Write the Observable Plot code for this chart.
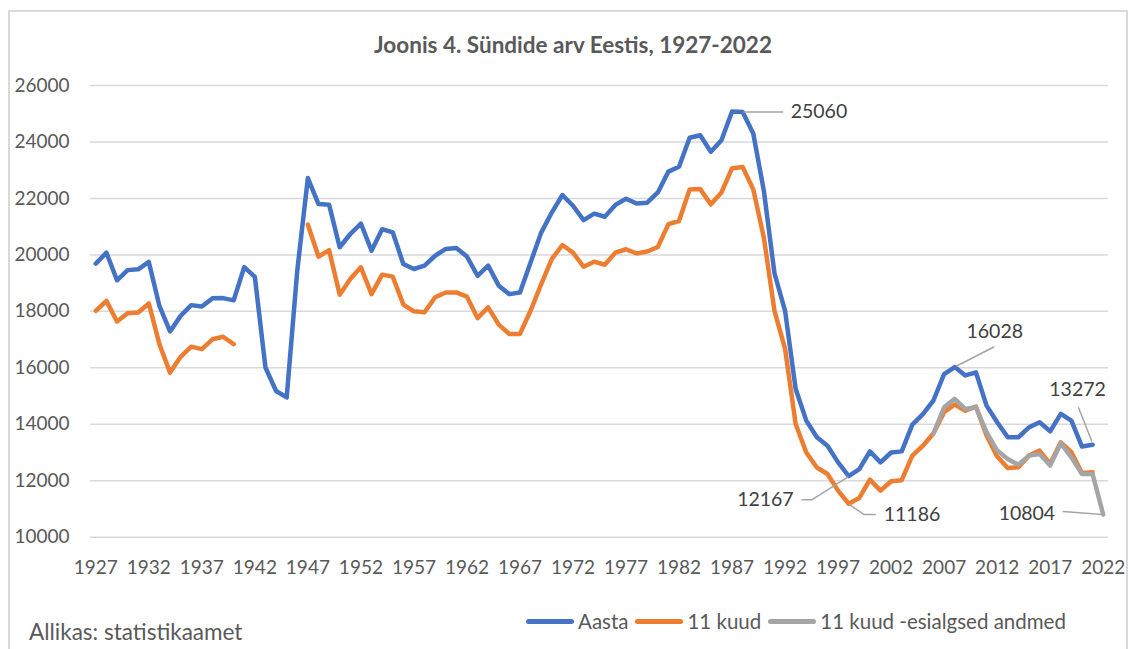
<!DOCTYPE html>
<html><head><meta charset="utf-8">
<script src="https://cdn.jsdelivr.net/npm/d3@7"></script>
<script src="https://cdn.jsdelivr.net/npm/@observablehq/plot@0.6"></script>
<style>
body{margin:0;background:#fff;font-family:Lato,"Open Sans",sans-serif;}
#wrap{position:relative;width:1128px;height:649px;overflow:hidden;background:#fff;}
#frame{position:absolute;left:8px;top:10px;width:1120px;height:680px;border:2px solid #d9d9d9;box-sizing:border-box;}
#title{position:absolute;top:32px;left:0;width:1146px;text-align:center;font-weight:bold;font-size:22.5px;color:#595959;line-height:26px;}
#chart{position:absolute;left:0;top:0;}
#legend{position:absolute;top:608px;left:526px;display:flex;align-items:center;font-size:20.5px;color:#595959;line-height:26px;}
.sw{width:48px;height:5px;border-radius:3px;margin-right:4px;}
.item{display:flex;align-items:center;margin-right:7px;}
#source{position:absolute;left:29px;top:619px;font-size:22.5px;color:#595959;line-height:26px;}
</style></head>
<body>
<div id="wrap">
  <div id="frame"></div>
  <div id="chart"></div>
  <div id="title">Joonis 4. Sündide arv Eestis, 1927-2022</div>
  <div id="legend"></div>
  <div id="source">Allikas: statistikaamet</div>
</div>
<script>
// ---- data ----
const years = [
 1927,1928,1929,1930,1931,1932,1933,1934,1935,1936,
 1937,1938,1939,1940,1941,1942,1943,1944,1945,1946,
 1947,1948,1949,1950,1951,1952,1953,1954,1955,1956,
 1957,1958,1959,1960,1961,1962,1963,1964,1965,1966,
 1967,1968,1969,1970,1971,1972,1973,1974,1975,1976,
 1977,1978,1979,1980,1981,1982,1983,1984,1985,1986,
 1987,1988,1989,1990,1991,1992,1993,1994,1995,1996,
 1997,1998,1999,2000,2001,2002,2003,2004,2005,2006,
 2007,2008,2009,2010,2011,2012,2013,2014,2015,2016,
 2017,2018,2019,2020,2021,2022];

const aasta = [
 19690,20080,19100,19460,19490,19750,18190,17290,17840,18220,
 18170,18460,18470,18390,19570,19220,16010,15180,14950,19450,
 22720,21800,21780,20270,20740,21110,20150,20910,20800,19680,
 19500,19620,19970,20210,20240,19940,19260,19620,18910,18610,
 18670,19730,20790,21500,22120,21740,21230,21460,21350,21770,
 21990,21820,21850,22210,22950,23120,24150,24240,23650,24060,
 25080,25060,24300,22270,19350,18020,15250,14130,13540,13240,
 12650,12167,12410,13040,12650,13000,13040,13990,14360,14850,
 15780,16028,15730,15840,14660,14070,13540,13540,13890,14070,
 13750,14370,14130,13210,13272,null];

const kuud11 = [
 18020,18370,17640,17930,17960,18280,16840,15830,16390,16750,
 16660,17010,17100,16840,null,null,null,null,null,null,
 21070,19940,20170,18590,19150,19560,18610,19300,19230,18240,
 18000,17970,18500,18670,18670,18520,17760,18140,17530,17200,
 17200,18020,18960,19850,20350,20080,19580,19760,19650,20080,
 20200,20050,20120,20280,21090,21200,22320,22330,21790,22210,
 23070,23110,22320,20610,18020,16670,14010,13000,12470,12240,
 11650,11186,11390,12040,11650,11980,12020,12890,13240,13680,
 14430,14700,14480,14630,13600,12860,12450,12480,12890,13070,
 12600,13360,13010,12270,12300,null];

const esialgsedYears = [2006,2007,2008,2009,2010,2011,2012,2013,2014,2015,2016,2017,2018,2019,2020,2021,2022];
const esialgsed = [13680,14600,14900,14540,14600,13720,13070,12770,12570,12890,12950,12540,13330,12830,12240,12240,10804];

const seriesNames = ["Aasta","11 kuud","11 kuud -esialgsed andmed"];
const seriesColors = ["#4472C4","#ED7D31","#A5A5A5"];

const xTickYears = [1927,1932,1937,1942,1947,1952,1957,1962,1967,1972,1977,1982,1987,1992,1997,2002,2007,2012,2017,2022];
const yTicks = [10000,12000,14000,16000,18000,20000,22000,24000,26000];

const annYears  = [1988,2008,2021,2022,1998,1998];
const annValues = [25060,16028,13272,10804,12167,11186];
const annLabels = ["25060","16028","13272","10804","12167","11186"];

// ---- layout of annotations (pixel offsets) ----
const annLayout = [
  {anchor:"start",  dx:48,  dy:0,   path:[[1,0],[40,0]]},
  {anchor:"middle", dx:40,  dy:-35, path:[[2,-1],[39,-20]]},
  {anchor:"middle", dx:-15, dy:-55, path:[[-1,-4],[-14,-37]]},
  {anchor:"end",    dx:-48, dy:-1,  path:[[-1,0],[-40,-3]]},
  {anchor:"end",    dx:-55, dy:24,  path:[[-1,1],[-36.6,23.7],[-46.6,23.7]]},
  {anchor:"start",  dx:35,  dy:11,  path:[[1,1],[15,10.7],[26.7,10.7]]}
];

// ---- build table ----
const rows = [];
years.forEach((yr,i)=>rows.push({year:yr, value:aasta[i], series:seriesNames[0]}));
years.forEach((yr,i)=>rows.push({year:yr, value:kuud11[i], series:seriesNames[1]}));
esialgsedYears.forEach((yr,i)=>rows.push({year:yr, value:esialgsed[i], series:seriesNames[2]}));

function leaderShape(pts){
  return {draw(ctx){ ctx.moveTo(pts[0][0],pts[0][1]); for(let k=1;k<pts.length;k++) ctx.lineTo(pts[k][0],pts[k][1]); }};
}

const annMarks = [];
annYears.forEach((yr,i)=>{
  const L = annLayout[i];
  annMarks.push(Plot.vector([i],{x:d=>annYears[d], y:d=>annValues[d], length:1, rotate:0, anchor:"start",
    shape:leaderShape(L.path), stroke:"#A5A5A5", strokeWidth:1.5}));
  annMarks.push(Plot.text([i],{x:d=>annYears[d], y:d=>annValues[d], text:d=>annLabels[d],
    dx:L.dx, dy:L.dy, textAnchor:L.anchor, fill:"#404040", fontSize:19.5}));
});

const plot = Plot.plot({
  width:1128, height:600,
  marginLeft:90, marginRight:20, marginTop:85, marginBottom:63.3,
  x:{domain:[1926.5,2022.5], ticks:xTickYears, tickFormat:"d", tickSize:0, tickPadding:23, label:null},
  y:{domain:[10000,26000], ticks:yTicks, tickFormat:"d", tickSize:0, tickPadding:21, label:null},
  color:{domain:seriesNames, range:seriesColors},
  style:{fontFamily:"Lato, 'Open Sans', sans-serif", fontSize:"19px", color:"#595959", background:"transparent", overflow:"visible"},
  marks:[
    Plot.gridY(yTicks,{stroke:"#D9D9D9", strokeOpacity:1, strokeWidth:1.5}),
    Plot.line(rows,{x:"year", y:"value", z:"series", stroke:"series", strokeWidth:4.5, strokeLinejoin:"round", strokeLinecap:"round"}),
    ...annMarks
  ]
});
document.getElementById("chart").appendChild(plot);

// legend
const leg = document.getElementById("legend");
seriesNames.forEach((name,i)=>{
  const it = document.createElement("div"); it.className="item";
  const sw = document.createElement("div"); sw.className="sw"; sw.style.background=seriesColors[i];
  const tx = document.createElement("span"); tx.textContent=name;
  it.appendChild(sw); it.appendChild(tx); leg.appendChild(it);
});
</script>
</body></html>
